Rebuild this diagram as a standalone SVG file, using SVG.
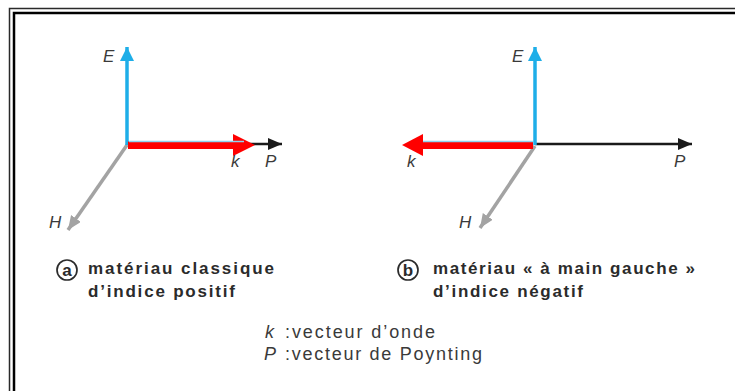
<svg xmlns="http://www.w3.org/2000/svg" width="735" height="391" viewBox="0 0 735 391">
<style>
.lbl{font-family:"Liberation Sans",Arial,sans-serif;font-style:italic;font-size:17px;fill:#3a3a3a}
.cap{font-family:"Liberation Sans",Arial,sans-serif;font-weight:bold;font-size:17px;fill:#2b2b2b}
.leg{font-family:"Liberation Sans",Arial,sans-serif;font-size:18px;fill:#3a3a3a}
.legi{font-family:"Liberation Sans",Arial,sans-serif;font-style:italic;font-size:18px;fill:#3a3a3a}
.circ{fill:none;stroke:#2b2b2b;stroke-width:1.7}
.blue{stroke:#1eaee8;stroke-width:3.5;fill:none}
.gray{stroke:#a3a3a3;stroke-width:3.5;fill:none}
.black{stroke:#1a1a1a;stroke-width:2.5;fill:none}
.kline{stroke:#8fd3f0;stroke-width:1.5;fill:none}
.red{fill:#ff0000}
</style>
<defs>
<marker id="hb" markerUnits="userSpaceOnUse" markerWidth="16" markerHeight="16" refX="14" refY="7" orient="auto"><path d="M0,0 L14,7 L0,14 z" fill="#1eaee8"/></marker>
<marker id="hg" markerUnits="userSpaceOnUse" markerWidth="16" markerHeight="16" refX="14" refY="6" orient="auto"><path d="M0,0 L14,6 L0,12 z" fill="#a3a3a3"/></marker>
<marker id="hk" markerUnits="userSpaceOnUse" markerWidth="16" markerHeight="16" refX="14" refY="6" orient="auto"><path d="M0,0 L14,6 L0,12 z" fill="#1a1a1a"/></marker>
</defs>
<rect x="0" y="0" width="735" height="391" fill="#ffffff"/>
<rect x="9.5" y="8.5" width="800" height="500" fill="none" stroke="#2a2a2a" stroke-width="1.5"/>
<rect x="14" y="13" width="800" height="500" fill="none" stroke="#000000" stroke-width="2.5"/>

<g id="connectors">
<!-- left diagram -->
<line class="black" x1="127" y1="144" x2="282" y2="144" marker-end="url(#hk)"/>
<line class="gray" x1="127" y1="145" x2="68" y2="230" marker-end="url(#hg)"/>
<line class="blue" x1="127" y1="145" x2="127" y2="47" marker-end="url(#hb)"/>
<rect class="red" x="128" y="141.5" width="106" height="7.5"/>
<polygon class="red" points="233,134 255,145 233,156"/>
<line class="kline" x1="129" y1="141.5" x2="244" y2="141.5"/>
<!-- right diagram -->
<line class="black" x1="535" y1="144" x2="692" y2="144" marker-end="url(#hk)"/>
<line class="gray" x1="535" y1="146" x2="480" y2="228" marker-end="url(#hg)"/>
<line class="blue" x1="535" y1="145" x2="535" y2="47" marker-end="url(#hb)"/>
<rect class="red" x="422" y="141.5" width="111" height="7.5"/>
<polygon class="red" points="423,134 402,145 423,156"/>
<line class="kline" x1="423" y1="141.5" x2="533" y2="141.5"/>
</g>

<g id="node-left-labels">
<text class="lbl" x="103" y="62">E</text>
<text class="lbl" x="231" y="167">k</text>
<text class="lbl" x="265" y="167">P</text>
<text class="lbl" x="49" y="228">H</text>
</g>
<g id="node-right-labels">
<text class="lbl" x="512" y="62">E</text>
<text class="lbl" x="407" y="167">k</text>
<text class="lbl" x="674" y="167">P</text>
<text class="lbl" x="459" y="228">H</text>
</g>

<g id="node-caption-a">
<circle class="circ" cx="67" cy="270" r="10"/>
<text class="cap" x="67" y="275.5" text-anchor="middle" font-size="15">a</text>
<text class="cap" x="88" y="274" textLength="186" lengthAdjust="spacing">matériau classique</text>
<text class="cap" x="88" y="297" textLength="147" lengthAdjust="spacing">d’indice positif</text>
</g>
<g id="node-caption-b">
<circle class="circ" cx="408" cy="270" r="10"/>
<text class="cap" x="408" y="275.5" text-anchor="middle" font-size="15">b</text>
<text class="cap" x="433" y="274" textLength="262" lengthAdjust="spacing">matériau « à main gauche »</text>
<text class="cap" x="433" y="297" textLength="150" lengthAdjust="spacing">d’indice négatif</text>
</g>

<g id="node-legend">
<text class="legi" x="265" y="338">k</text>
<text class="leg" x="285" y="338" textLength="150" lengthAdjust="spacing">:vecteur d’onde</text>
<text class="legi" x="264" y="360">P</text>
<text class="leg" x="285" y="360" textLength="197" lengthAdjust="spacing">:vecteur de Poynting</text>
</g>
</svg>
